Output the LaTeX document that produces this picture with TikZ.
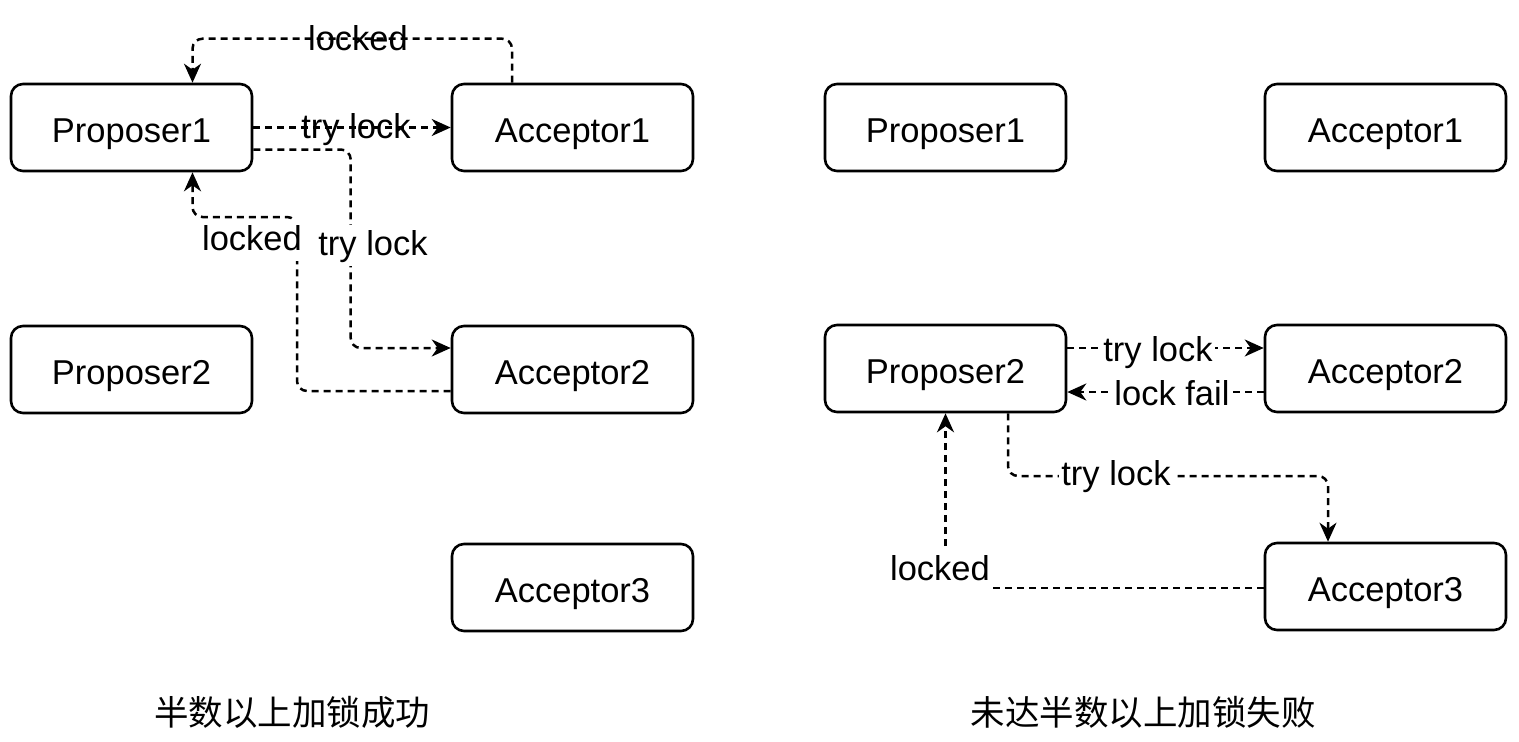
\documentclass[tikz,border=0pt]{standalone}
\usepackage{fontspec}
\setmainfont{Liberation Sans}
\newfontfamily\cjk{Noto Sans CJK SC}
\usetikzlibrary{arrows.meta}
\begin{document}
\begin{tikzpicture}[x=1pt,y=-1pt,
  box/.style={draw, line width=2.6pt, rounded corners=12pt, minimum width=241pt, minimum height=87pt, inner sep=0pt, text height=29pt, text depth=0pt, font=\fontsize{34.5}{40}\selectfont},
  conn/.style={line width=2.5pt, dash pattern=on 7pt off 5pt},
  arr/.style={conn, -{Stealth[length=19pt,width=17pt,inset=6pt]}},
  lbl/.style={font=\fontsize{34.5}{40}\selectfont, inner sep=0pt, anchor=base},
  wlbl/.style={lbl, fill=white, text height=29pt, text depth=10pt, inner xsep=2pt, inner ysep=1pt},
  captxt/.style={font=\cjk\fontsize{34.5}{40}\selectfont, inner sep=0pt, anchor=base}
]
\useasboundingbox (0,0) rectangle (1519,742);
% left diagram
\node[box] (p1) at (131.5,127.5) {Proposer1};
\node[box] (a1) at (572.5,127.5) {Acceptor1};
\node[box] (p2) at (131.5,369.5) {Proposer2};
\node[box] (a2) at (572.5,369.5) {Acceptor2};
\node[box] (a3) at (572.5,587.5) {Acceptor3};
% right diagram
\node[box] (p1r) at (945.5,127.5) {Proposer1};
\node[box] (a1r) at (1385.5,127.5) {Acceptor1};
\node[box] (p2r) at (945.5,368.5) {Proposer2};
\node[box] (a2r) at (1385.5,368.5) {Acceptor2};
\node[box] (a3r) at (1385.5,586.5) {Acceptor3};

% left connectors
\draw[arr] ([xshift=-60.5pt]a1.north) {[rounded corners=10pt] -- ++(0,-44) -| ([xshift=61pt]p1.north)};
\node[lbl] (l1) at (358,50) {locked};
\draw[arr] (p1.east) -- (a1.west);
\node[lbl] (l2) at (356,138) {try lock};
\draw[arr] ([yshift=-22pt]p1.east) {[rounded corners=10pt] -| ([xshift=-100pt,yshift=21.5pt]a2.west) -- ([yshift=21.5pt]a2.west)};
\node[wlbl] (l3) at (373,255) {try lock};
\draw[arr] ([yshift=-21.5pt]a2.west) {[rounded corners=10pt] -| (297,217) -| ([xshift=61pt]p1.south)};
\node[wlbl] (l4) at (252,250) {locked};

% right connectors
\draw[arr] ([yshift=20.5pt]p2r.east) -- ([yshift=20.5pt]a2r.west);
\node[wlbl] (r1) at (1158,361) {try lock};
\draw[arr] ([yshift=-23.5pt]a2r.west) -- ([yshift=-23.5pt]p2r.east);
\node[wlbl] (r2) at (1172,405) {lock fail};
\draw[arr] ([xshift=62.5pt]p2r.south) {[rounded corners=10pt] |- (1328,476) -- ([xshift=-57.5pt]a3r.north)};
\node[wlbl] (r3) at (1116,485) {try lock};
\draw[arr] ([yshift=-1.5pt]a3r.west) -| (p2r.south);
\node[wlbl] (r4) at (940,580) {locked};

% captions
\node[captxt] (c1) at (292,725) {半数以上加锁成功};
\node[captxt] (c2) at (1143,725) {未达半数以上加锁失败};
\end{tikzpicture}
\end{document}
